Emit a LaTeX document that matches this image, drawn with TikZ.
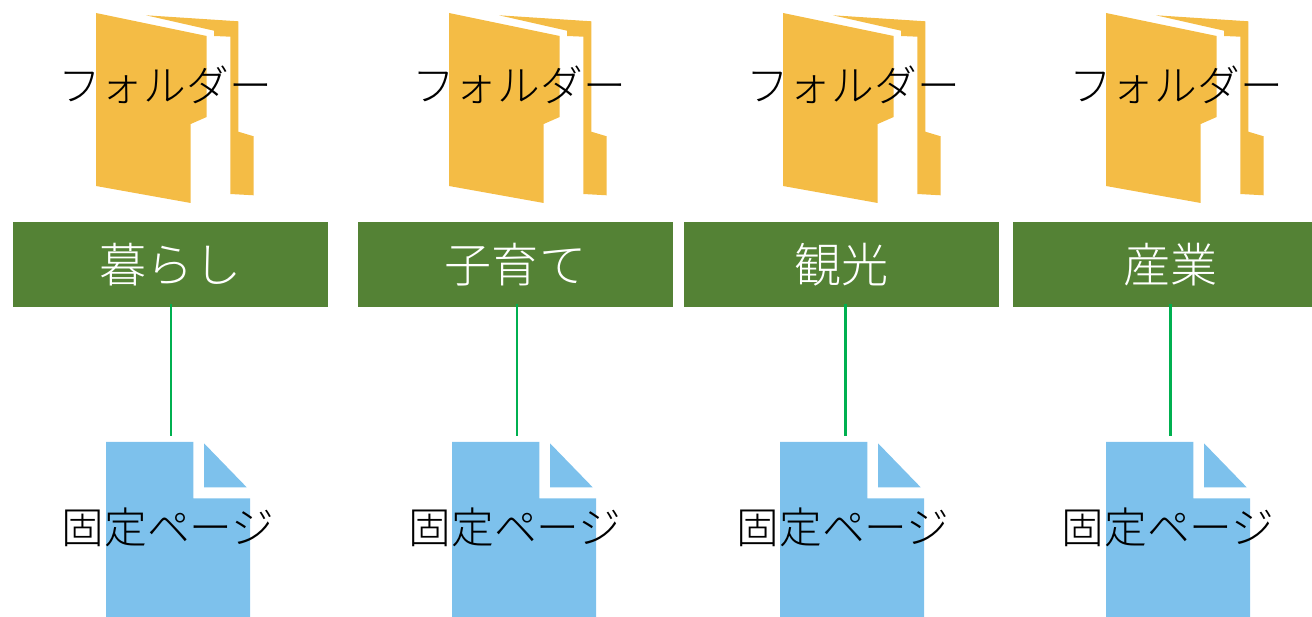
\documentclass[tikz,border=0pt]{standalone}
\usepackage{fontspec}
\newfontfamily\cjk{Noto Sans CJK JP Light}
\definecolor{foldercol}{HTML}{F4BC45}
\definecolor{pagecol}{HTML}{7DC1EC}
\definecolor{boxcol}{HTML}{548235}
\definecolor{linecol}{HTML}{00B050}
\tikzset{
  foldertext/.style={font=\cjk\fontsize{24.3}{29}\selectfont,text=black,inner sep=0pt},
  pagetext/.style={font=\cjk\fontsize{24.3}{29}\selectfont,text=black,inner sep=0pt},
  topbox/.style={fill=boxcol,text=white,font=\cjk\fontsize{26.8}{32}\selectfont,minimum width=315*0.02cm,minimum height=85.5*0.02cm,inner sep=0pt},
  linkline/.style={linecol,line width=1.7pt,shorten <=-0.08cm},
  folderpic/.pic={
    \fill[foldercol] (0,0) -- (110.7,23) -- (110.7,104) -- (94.7,111) -- (94.7,190) -- (0,173) -- cycle;
    \fill[foldercol] (50,2.3) -- (142.3,8.3) -- (142.3,118.7) -- (157.7,123.3) -- (157.7,182.3) -- (134.3,181) -- (134.3,23.7) -- (118,23) -- (118,17.7) -- cycle;
  },
  pagepic/.pic={
    \fill[pagecol] (0,0) -- (87.3,0) -- (87.3,56.3) -- (144,56.3) -- (144,175) -- (0,175) -- cycle;
    \fill[pagecol] (98,1.3) -- (140.7,45.3) -- (98,45.3) -- cycle;
  }
}
\begin{document}
\begin{tikzpicture}[x=0.02cm,y=-0.02cm]
\useasboundingbox (0,0) rectangle (1312,617);
% folders
\pic at (96,13) {folderpic};
\pic at (449,13) {folderpic};
\pic at (783,13) {folderpic};
\pic at (1106,13) {folderpic};
% pages
\pic at (106,442) {pagepic};
\pic at (452,442) {pagepic};
\pic at (780,442) {pagepic};
\pic at (1106,442) {pagepic};
% green boxes
\node [topbox, name=b1] at (170.5,264.7) {暮らし};
\node [topbox, name=b2] at (515.5,264.7) {子育て};
\node [topbox, name=b3] at (841.5,264.7) {観光};
\node [topbox, name=b4] at (1170.5,264.7) {産業};
% labels
\node [foldertext, name=f1] at (165,84.5) {フォルダー};
\node [foldertext, name=f2] at (519,84.5) {フォルダー};
\node [foldertext, name=f3] at (853,84.5) {フォルダー};
\node [foldertext, name=f4] at (1176,84.5) {フォルダー};
\node [pagetext, name=p1] at (168,527) {固定ページ};
\node [pagetext, name=p2] at (515,527) {固定ページ};
\node [pagetext, name=p3] at (843,527) {固定ページ};
\node [pagetext, name=p4] at (1168,527) {固定ページ};
% lines
\coordinate (e1) at (171,436);
\coordinate (e2) at (517,436);
\coordinate (e3) at (845,436);
\coordinate (e4) at (1170,436);
\draw [linkline] (b1.south -| e1) to (e1);
\draw [linkline] (b2.south -| e2) to (e2);
\draw [linkline] (b3.south -| e3) to (e3);
\draw [linkline] (b4.south -| e4) to (e4);
\end{tikzpicture}
\end{document}
